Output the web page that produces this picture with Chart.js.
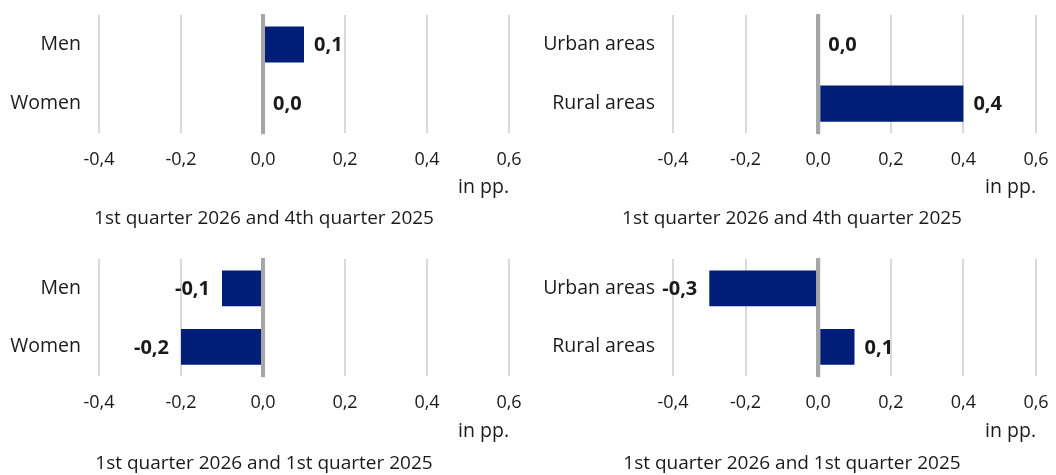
<!DOCTYPE html>
<html>
<head>
<meta charset="utf-8">
<script src="https://cdn.jsdelivr.net/npm/chart.js@4/dist/chart.umd.min.js"></script>
<style>
  html, body { margin: 0; padding: 0; background: #fff; }
  body { width: 1056px; height: 475px; position: relative; overflow: hidden; }
  .panel { position: absolute; }
</style>
</head>
<body>
<div class="panel" style="left:0;top:0;width:528px;height:237px"><canvas id="c1"></canvas></div>
<div class="panel" style="left:528px;top:0;width:528px;height:237px"><canvas id="c2"></canvas></div>
<div class="panel" style="left:0;top:237px;width:528px;height:238px"><canvas id="c3"></canvas></div>
<div class="panel" style="left:528px;top:237px;width:528px;height:238px"><canvas id="c4"></canvas></div>
<script>
// data
const genderLabels = ["Men", "Women"];
const areaLabels = ["Urban areas", "Rural areas"];
const genderVsPrevQuarter = [0.1, 0.0];
const areaVsPrevQuarter = [0.0, 0.4];
const genderVsPrevYear = [-0.1, -0.2];
const areaVsPrevYear = [-0.3, 0.1];
const xMin = -0.4;
const xMax = 0.6;
const xStep = 0.2;
const periodTitles = [
  "1st quarter 2026 and 4th quarter 2025",
  "1st quarter 2026 and 1st quarter 2025",
];
const unitLabel = "in pp.";

const FONT = "'Open Sans', 'Noto Sans', sans-serif";
const BAR = "#001e78";
const ZERO = "#a6a6a6";
const GRID = "#d9d9d9";
const TEXT = "#1a1a1a";

const fmt = (v) => v.toFixed(1).replace(".", ",");

// value labels next to bar ends
const valueLabels = {
  id: "valueLabels",
  afterDatasetsDraw(chart) {
    const ctx = chart.ctx;
    const values = chart.data.datasets[0].data;
    const meta = chart.getDatasetMeta(0);
    ctx.save();
    ctx.font = "bold 20px " + FONT;
    ctx.fillStyle = TEXT;
    ctx.textBaseline = "middle";
    meta.data.forEach((bar, i) => {
      const v = values[i];
      if (v < 0) {
        ctx.textAlign = "right";
        ctx.fillText(fmt(v), bar.x - 12, bar.y + 1);
      } else {
        ctx.textAlign = "left";
        ctx.fillText(fmt(v), bar.x + 10, bar.y + 1);
      }
    });
    ctx.restore();
  },
};

// grey zero line drawn over the bars
const zeroLine = {
  id: "zeroLine",
  afterDatasetsDraw(chart) {
    const x = chart.scales.x.getPixelForValue(0);
    const area = chart.chartArea;
    const ctx = chart.ctx;
    ctx.save();
    ctx.strokeStyle = ZERO;
    ctx.lineWidth = 4;
    ctx.beginPath();
    ctx.moveTo(x, area.top - 1);
    ctx.lineTo(x, area.bottom + 1);
    ctx.stroke();
    ctx.restore();
  },
};

function makeChart(id, labels, values, title, yWidth, padRight, padTop, padBottom, xHeight, titleGap) {
  return new Chart(document.getElementById(id), {
    type: "bar",
    data: {
      labels: labels,
      datasets: [
        {
          data: values,
          backgroundColor: BAR,
          borderWidth: 0,
          barPercentage: 0.61,
          categoryPercentage: 1,
        },
      ],
    },
    options: {
      indexAxis: "y",
      responsive: true,
      maintainAspectRatio: false,
      animation: false,
      layout: { padding: { left: 0, right: 0, top: padTop, bottom: padBottom } },
      plugins: {
        legend: { display: false },
        tooltip: { enabled: false },
        title: {
          display: true,
          text: title,
          position: "bottom",
          color: TEXT,
          font: { family: FONT, size: 19, weight: "normal" },
          padding: { top: titleGap, bottom: 0 },
        },
      },
      scales: {
        x: {
          min: xMin,
          max: xMax,
          ticks: {
            stepSize: xStep,
            padding: 16,
            color: TEXT,
            font: { family: FONT, size: 18 },
            callback: (v) => fmt(v),
          },
          grid: {
            drawTicks: false,
            color: (c) => (Math.abs(c.tick.value) < 1e-9 ? ZERO : GRID),
            lineWidth: (c) => (Math.abs(c.tick.value) < 1e-9 ? 4 : 2),
          },
          border: { display: false },
          title: {
            display: true,
            text: unitLabel,
            align: "end",
            color: TEXT,
            font: { family: FONT, size: 19.5 },
            padding: { top: 0, bottom: 0 },
          },
          afterFit: (scale) => {
            scale.height = xHeight;
            scale.paddingLeft = 0;
            scale.paddingRight = padRight;
          },
        },
        y: {
          grid: { display: false, drawTicks: false },
          border: { display: false },
          ticks: {
            padding: 18,
            color: TEXT,
            font: { family: FONT, size: 19.5 },
          },
          afterFit: (scale) => {
            scale.width = yWidth;
            scale.paddingTop = 0;
            scale.paddingBottom = 0;
          },
        },
      },
    },
    plugins: [zeroLine, valueLabels],
  });
}

makeChart("c1", genderLabels, genderVsPrevQuarter, periodTitles[0], 99, 19, 15, 7, 66, 8);
makeChart("c2", areaLabels, areaVsPrevQuarter, periodTitles[0], 145, 20, 15, 7, 66, 8);
makeChart("c3", genderLabels, genderVsPrevYear, periodTitles[1], 99, 19, 22, 0, 67, 9);
makeChart("c4", areaLabels, areaVsPrevYear, periodTitles[1], 145, 20, 22, 0, 67, 9);
</script>
</body>
</html>
